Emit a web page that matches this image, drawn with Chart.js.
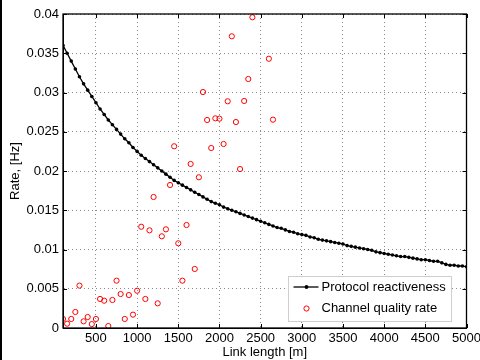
<!DOCTYPE html>
<html lang="en">

<head>
    <meta charset="UTF-8">
    <title>Rate vs link length</title>
    <script src="https://cdn.jsdelivr.net/npm/chart.js"></script>
    <style>
        body { margin: 0; background: #fff; }
        .quadro { position: relative; width: 480px; height: 360px; }
        .quadro:before { content: ""; position: absolute; left: 0; top: 0; width: 2px; height: 360px; background: #000; }
    </style>
</head>

<body>
    <div class="quadro">
        <canvas id="grafico" width="480" height="360"></canvas>
    </div>
</body>

</html>

<script>
    // Protocol reactiveness (black line with dots)
    var linhaX = [
        100, 150, 200, 250, 300, 350, 400, 450, 500, 550, 600, 650, 700, 750, 800, 850, 900, 950, 1000,
        1050, 1100, 1150, 1200, 1250, 1300, 1350, 1400, 1450, 1500, 1550, 1600, 1650, 1700, 1750, 1800,
        1850, 1900, 1950, 2000, 2050, 2100, 2150, 2200, 2250, 2300, 2350, 2400, 2450, 2500, 2550, 2600,
        2650, 2700, 2750, 2800, 2850, 2900, 2950, 3000, 3050, 3100, 3150, 3200, 3250, 3300, 3350, 3400,
        3450, 3500, 3550, 3600, 3650, 3700, 3750, 3800, 3850, 3900, 3950, 4000, 4050, 4100, 4150, 4200,
        4250, 4300, 4350, 4400, 4450, 4500, 4550, 4600, 4650, 4700, 4750, 4800, 4850, 4900, 4950, 5000
    ];
    var linhaY = [
        0.0360, 0.0350, 0.0340, 0.0330, 0.0320, 0.0311, 0.0303, 0.0295, 0.0287, 0.0279, 0.0272, 0.0265,
        0.0259, 0.0253, 0.0247, 0.0241, 0.0236, 0.0230, 0.0225, 0.0220, 0.0216, 0.0212, 0.0208, 0.0204,
        0.0200, 0.0196, 0.0192, 0.0188, 0.0185, 0.0182, 0.0179, 0.0176, 0.0173, 0.0170, 0.0167, 0.0164,
        0.0161, 0.0159, 0.0157, 0.0154, 0.0152, 0.0150, 0.0148, 0.0146, 0.0144, 0.0142, 0.0140, 0.0138,
        0.0136, 0.0134, 0.0132, 0.0130, 0.0128, 0.0127, 0.0125, 0.0123, 0.0122, 0.0120, 0.0119, 0.0118,
        0.0116, 0.0115, 0.0113, 0.0112, 0.0111, 0.0110, 0.0109, 0.0108, 0.0107, 0.0105, 0.0104, 0.0103,
        0.0102, 0.0101, 0.0100, 0.0099, 0.0097, 0.0096, 0.0095, 0.0094, 0.0093, 0.0092, 0.0091, 0.0091,
        0.0090, 0.0089, 0.0088, 0.0087, 0.0087, 0.0086, 0.0085, 0.0085, 0.0083, 0.0081, 0.0080, 0.0080,
        0.0079, 0.0079, 0.0078
    ];

    // Channel quality rate (red circles)
    var canalX = [
        100, 150, 200, 250, 300, 350, 400, 450, 500, 550, 600, 650, 700, 750, 800, 850, 900, 950, 1000,
        1050, 1100, 1150, 1200, 1250, 1300, 1350, 1400, 1450, 1500, 1550, 1600, 1650, 1700, 1750, 1800,
        1850, 1900, 1950, 2000, 2050, 2100, 2150, 2200, 2250, 2300, 2350, 2400, 2600, 2650
    ];
    var canalY = [
        0.00115, 0.00055, 0.00115, 0.00204, 0.0054, 0.00085, 0.0014, 0.0005, 0.00115, 0.0037, 0.00348,
        0.00025, 0.00357, 0.00603, 0.00433, 0.00115, 0.0042, 0.0017, 0.00475, 0.0129, 0.0037, 0.01244,
        0.01669, 0.00314, 0.01168, 0.01257, 0.01822, 0.02315, 0.01079, 0.00603, 0.01312, 0.0209, 0.00752,
        0.0192, 0.03006, 0.0265, 0.02293, 0.02671, 0.02667, 0.02344, 0.02888, 0.03716, 0.02624, 0.02025,
        0.02892, 0.03172, 0.03958, 0.0343, 0.02654
    ];

    var xTicks = [500, 1000, 1500, 2000, 2500, 3000, 3500, 4000, 4500, 5000];
    var yTicks = [0, 0.005, 0.01, 0.015, 0.02, 0.025, 0.03, 0.035, 0.04];
    var yLabels = ["0", "0.005", "0.01", "0.015", "0.02", "0.025", "0.03", "0.035", "0.04"];

    var fonte = "'Liberation Sans', Arial, sans-serif";
    Chart.defaults.font.family = fonte;
    Chart.defaults.font.size = 13;
    Chart.defaults.color = "#000";

    function juntar(xs, ys) {
        var pts = [];
        for (var i = 0; i < xs.length; i++) {
            pts.push({ x: xs[i], y: ys[i] });
        }
        return pts;
    }

    // box + inward tick marks, matlab style
    var moldura = {
        id: "moldura",
        afterDraw: function (chart) {
            var c = chart.ctx;
            var a = chart.chartArea;
            var sx = chart.scales.x;
            var sy = chart.scales.y;
            c.save();
            c.strokeStyle = "#000";
            c.lineWidth = 1;
            c.beginPath();
            for (var i = 0; i < xTicks.length; i++) {
                var px = Math.round(sx.getPixelForValue(xTicks[i])) + 0.5;
                c.moveTo(px, a.bottom); c.lineTo(px, a.bottom - 4);
                c.moveTo(px, a.top); c.lineTo(px, a.top + 4);
            }
            for (var j = 0; j < yTicks.length; j++) {
                var py = Math.round(sy.getPixelForValue(yTicks[j])) + 0.5;
                c.moveTo(a.left, py); c.lineTo(a.left + 4, py);
                c.moveTo(a.right, py); c.lineTo(a.right - 4, py);
            }
            c.stroke();
            c.lineWidth = 1.3;
            c.strokeRect(a.left, a.top, a.right - a.left, a.bottom - a.top);
            c.restore();
        }
    };

    var legenda = {
        id: "legenda",
        afterDraw: function (chart) {
            var c = chart.ctx;
            var a = chart.chartArea;
            var ds = chart.data.datasets;
            var w = 163, h = 45;
            var x0 = Math.round(a.right - 16 - w) + 0.5;
            var y0 = Math.round(a.bottom - 7 - h) + 0.5;
            c.save();
            c.fillStyle = "#fff";
            c.fillRect(x0, y0, w, h);
            c.strokeStyle = "#cfcfcf";
            c.lineWidth = 1;
            c.strokeRect(x0, y0, w, h);

            c.strokeStyle = "#000";
            c.lineWidth = 1.3;
            c.beginPath();
            c.moveTo(x0 + 5, y0 + 10.5);
            c.lineTo(x0 + 30, y0 + 10.5);
            c.stroke();
            c.fillStyle = "#000";
            c.beginPath();
            c.arc(x0 + 18, y0 + 10.5, 1.9, 0, 2 * Math.PI);
            c.fill();

            c.strokeStyle = "#ff0000";
            c.lineWidth = 1;
            c.beginPath();
            c.arc(x0 + 18, y0 + 32, 2.6, 0, 2 * Math.PI);
            c.stroke();

            c.fillStyle = "#000";
            c.font = "13px " + fonte;
            c.textAlign = "left";
            c.textBaseline = "middle";
            c.fillText(ds[0].label, x0 + 33, y0 + 11);
            c.fillText(ds[1].label, x0 + 33, y0 + 32);
            c.restore();
        }
    };

    new Chart(document.getElementById("grafico"), {
        type: "scatter",
        data: {
            datasets: [{
                label: "Protocol reactiveness",
                data: juntar(linhaX, linhaY),
                showLine: true,
                borderColor: "#000",
                backgroundColor: "#000",
                borderWidth: 1.3,
                pointRadius: 1.8,
                pointBorderWidth: 0,
                pointBackgroundColor: "#000"
            }, {
                label: "Channel quality rate",
                data: juntar(canalX, canalY),
                showLine: false,
                borderColor: "#ff0000",
                backgroundColor: "rgba(0,0,0,0)",
                pointRadius: 2.6,
                pointBorderWidth: 1
            }]
        },
        options: {
            responsive: false,
            animation: false,
            layout: { padding: { top: 14, right: 13.5, left: 0, bottom: 0 } },
            plugins: {
                legend: { display: false },
                tooltip: { enabled: false }
            },
            scales: {
                x: {
                    type: "linear",
                    min: 100,
                    max: 5000,
                    afterBuildTicks: function (s) {
                        s.ticks = xTicks.map(function (v) { return { value: v }; });
                    },
                    afterFit: function (s) {
                        s.height = 32;
                        s.paddingLeft = 0;
                        s.paddingRight = 0;
                    },
                    ticks: {
                        padding: 3,
                        maxRotation: 0,
                        autoSkip: false,
                        callback: function (v) { return String(v); }
                    },
                    grid: { color: "#8a8a8a", lineWidth: 1, drawTicks: false },
                    border: { display: true, color: "#000", width: 1, dash: [1, 3] },
                    title: { display: true, text: "Link length [m]", padding: { top: 0, bottom: 0 } }
                },
                y: {
                    type: "linear",
                    min: 0,
                    max: 0.04,
                    afterBuildTicks: function (s) {
                        s.ticks = yTicks.map(function (v) { return { value: v }; });
                    },
                    afterFit: function (s) {
                        s.width = 63;
                        s.paddingTop = 0;
                        s.paddingBottom = 0;
                    },
                    ticks: {
                        padding: 4,
                        autoSkip: false,
                        callback: function (v, i) { return yLabels[i]; }
                    },
                    grid: { color: "#8a8a8a", lineWidth: 1, drawTicks: false },
                    border: { display: true, color: "#000", width: 1, dash: [1, 3] },
                    title: { display: true, text: "Rate, [Hz]", padding: { top: 8, bottom: 0 } }
                }
            }
        },
        plugins: [moldura, legenda]
    });
</script>
